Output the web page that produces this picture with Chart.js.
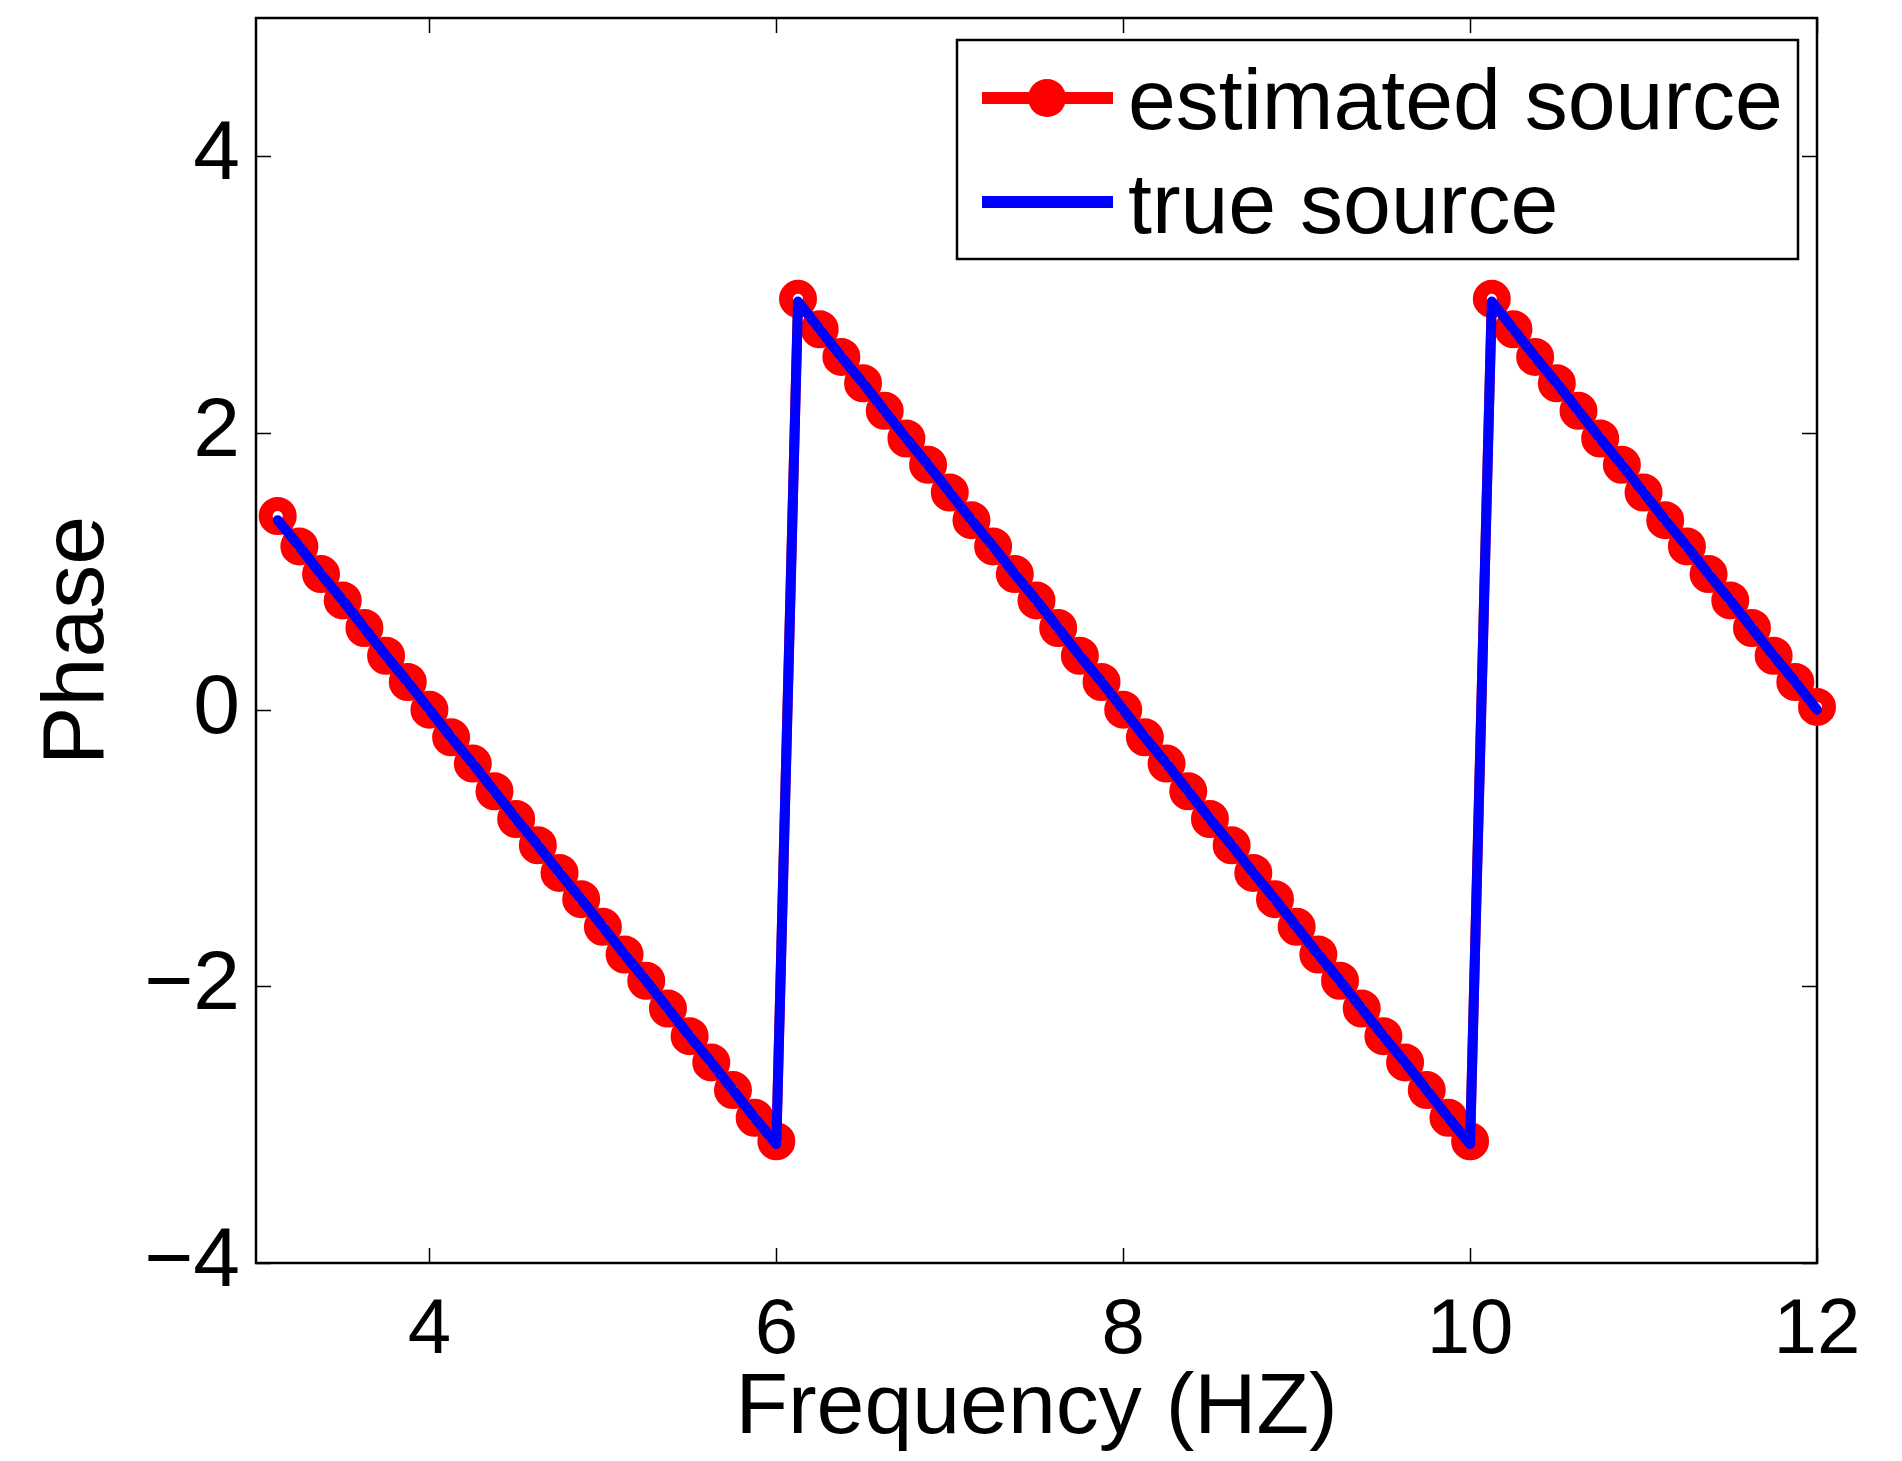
<!DOCTYPE html>
<html>
<head>
<meta charset="utf-8">
<script src="https://cdn.jsdelivr.net/npm/chart.js@4.4.1/dist/chart.umd.min.js"></script>
<style>
  html, body { margin: 0; padding: 0; background: #fff; }
  #wrap { width: 1902px; height: 1461px; }
</style>
</head>
<body>
<div id="wrap"><canvas id="phaseChart" width="1902" height="1461"></canvas></div>
<script>
// frequency samples (Hz)
const frequency = [
  3.125, 3.25, 3.375, 3.5, 3.625, 3.75, 3.875, 4,
  4.125, 4.25, 4.375, 4.5, 4.625, 4.75, 4.875, 5,
  5.125, 5.25, 5.375, 5.5, 5.625, 5.75, 5.875, 6,
  6.125, 6.25, 6.375, 6.5, 6.625, 6.75, 6.875, 7,
  7.125, 7.25, 7.375, 7.5, 7.625, 7.75, 7.875, 8,
  8.125, 8.25, 8.375, 8.5, 8.625, 8.75, 8.875, 9,
  9.125, 9.25, 9.375, 9.5, 9.625, 9.75, 9.875, 10,
  10.125, 10.25, 10.375, 10.5, 10.625, 10.75, 10.875, 11,
  11.125, 11.25, 11.375, 11.5, 11.625, 11.75, 11.875, 12
];

const estimatedPhase = [
  1.40, 1.18, 0.98, 0.79, 0.59, 0.39, 0.20, 0.00,
  -0.20, -0.39, -0.59, -0.79, -0.98, -1.18, -1.37, -1.57,
  -1.77, -1.96, -2.16, -2.36, -2.55, -2.75, -2.95, -3.12,
  2.97, 2.75, 2.55, 2.36, 2.16, 1.96, 1.77, 1.57,
  1.37, 1.18, 0.98, 0.79, 0.59, 0.39, 0.20, 0.00,
  -0.20, -0.39, -0.59, -0.79, -0.98, -1.18, -1.37, -1.57,
  -1.77, -1.96, -2.16, -2.36, -2.55, -2.75, -2.95, -3.12,
  2.97, 2.75, 2.55, 2.36, 2.16, 1.96, 1.77, 1.57,
  1.37, 1.18, 0.98, 0.79, 0.59, 0.39, 0.20, 0.02
];

const truePhase = [
  1.37, 1.18, 0.98, 0.79, 0.59, 0.39, 0.20, 0.00,
  -0.20, -0.39, -0.59, -0.79, -0.98, -1.18, -1.37, -1.57,
  -1.77, -1.96, -2.16, -2.36, -2.55, -2.75, -2.95, -3.14,
  2.95, 2.75, 2.55, 2.36, 2.16, 1.96, 1.77, 1.57,
  1.37, 1.18, 0.98, 0.79, 0.59, 0.39, 0.20, 0.00,
  -0.20, -0.39, -0.59, -0.79, -0.98, -1.18, -1.37, -1.57,
  -1.77, -1.96, -2.16, -2.36, -2.55, -2.75, -2.95, -3.14,
  2.95, 2.75, 2.55, 2.36, 2.16, 1.96, 1.77, 1.57,
  1.37, 1.18, 0.98, 0.79, 0.59, 0.39, 0.20, 0.00
];

const xTicks = [4, 6, 8, 10, 12];
const yTicks = [-4, -2, 0, 2, 4];
const seriesNames = ['estimated source', 'true source'];

const FONT = '"Liberation Sans", Arial, Helvetica, sans-serif';
const RED = '#ff0000';
const BLUE = '#0000ff';

function toPoints(ys) {
  return frequency.map((f, i) => ({ x: f, y: ys[i] }));
}

// matlab style box with inward ticks on all four sides
const boxPlugin = {
  id: 'matlabBox',
  beforeDatasetsDraw(chart) {
    const { ctx, chartArea: a, scales } = chart;
    const len = 15;
    ctx.save();
    ctx.strokeStyle = '#000';
    ctx.lineWidth = 1.5;
    ctx.beginPath();
    xTicks.forEach(v => {
      const px = Math.round(scales.x.getPixelForValue(v)) + 0.5;
      ctx.moveTo(px, a.bottom); ctx.lineTo(px, a.bottom - len);
      ctx.moveTo(px, a.top); ctx.lineTo(px, a.top + len);
    });
    yTicks.forEach(v => {
      const py = Math.round(scales.y.getPixelForValue(v)) + 0.5;
      ctx.moveTo(a.left, py); ctx.lineTo(a.left + len, py);
      ctx.moveTo(a.right, py); ctx.lineTo(a.right - len, py);
    });
    ctx.stroke();
    ctx.lineWidth = 2.5;
    ctx.strokeRect(a.left, a.top, a.right - a.left, a.bottom - a.top);
    ctx.restore();
  }
};

// legend box drawn inside the top right corner
const legendPlugin = {
  id: 'insideLegend',
  afterDraw(chart) {
    const { ctx, chartArea: a } = chart;
    const boxL = a.right - 860, boxR = a.right - 19;
    const boxT = a.top + 22, boxB = a.top + 241;
    ctx.save();
    ctx.fillStyle = '#fff';
    ctx.fillRect(boxL, boxT, boxR - boxL, boxB - boxT);
    ctx.strokeStyle = '#000';
    ctx.lineWidth = 2.5;
    ctx.strokeRect(boxL, boxT, boxR - boxL, boxB - boxT);

    const rows = [
      { name: seriesNames[0], color: RED, marker: true, y: boxT + 58 },
      { name: seriesNames[1], color: BLUE, marker: false, y: boxT + 162 }
    ];
    rows.forEach(r => {
      ctx.strokeStyle = r.color;
      ctx.lineWidth = 12;
      ctx.beginPath();
      ctx.moveTo(boxL + 25, r.y);
      ctx.lineTo(boxL + 156, r.y);
      ctx.stroke();
      if (r.marker) {
        ctx.fillStyle = r.color;
        ctx.beginPath();
        ctx.arc(boxL + 90, r.y, 19, 0, Math.PI * 2);
        ctx.fill();
      }
      ctx.fillStyle = '#000';
      ctx.font = '86px ' + FONT;
      ctx.textAlign = 'left';
      ctx.textBaseline = 'alphabetic';
      ctx.fillText(r.name, boxL + 171, r.y + 31);
    });
    ctx.restore();
  }
};

const ctx = document.getElementById('phaseChart').getContext('2d');

const phaseChart = new Chart(ctx, {
  type: 'line',
  data: {
    datasets: [
      {
        label: seriesNames[0],
        data: toPoints(estimatedPhase),
        borderColor: RED,
        borderWidth: 10,
        pointRadius: 12,
        pointBorderWidth: 14,
        pointBackgroundColor: '#fff',
        pointBorderColor: RED,
        pointHoverRadius: 12,
        tension: 0,
        clip: false,
        order: 2
      },
      {
        label: seriesNames[1],
        data: toPoints(truePhase),
        borderColor: BLUE,
        borderWidth: 10,
        pointRadius: 0,
        borderCapStyle: 'round',
        borderJoinStyle: 'round',
        tension: 0,
        clip: false,
        order: 1
      }
    ]
  },
  options: {
    responsive: false,
    animation: false,
    devicePixelRatio: 1,
    layout: { autoPadding: false, padding: { top: 18, right: 85, bottom: 0, left: 0 } },
    plugins: {
      legend: { display: false },
      tooltip: { enabled: false }
    },
    scales: {
      x: {
        type: 'linear',
        min: 3,
        max: 12,
        grid: { display: false },
        border: { display: false },
        afterBuildTicks: s => { s.ticks = xTicks.map(v => ({ value: v })); },
        afterFit: s => { s.height = 198; s.paddingLeft = 0; s.paddingRight = 0; },
        ticks: {
          color: '#000',
          padding: 14,
          font: { family: FONT, size: 78 },
          callback: v => String(v).replace('-', '\u2212')
        },
        title: {
          display: true,
          text: 'Frequency (HZ)',
          color: '#000',
          font: { family: FONT, size: 86 },
          padding: { top: 0, bottom: 0 }
        }
      },
      y: {
        type: 'linear',
        min: -4,
        max: 5,
        grid: { display: false },
        border: { display: false },
        afterBuildTicks: s => { s.ticks = yTicks.map(v => ({ value: v })); },
        afterFit: s => { s.width = 256; s.paddingTop = 0; s.paddingBottom = 0; },
        ticks: {
          color: '#000',
          padding: 8,
          font: { family: FONT, size: 84 },
          callback: v => String(v).replace('-', '\u2212')
        },
        title: {
          display: true,
          text: 'Phase',
          color: '#000',
          font: { family: FONT, size: 88 },
          padding: { top: 26, bottom: 0 }
        }
      }
    }
  },
  plugins: [boxPlugin, legendPlugin]
});
</script>
</body>
</html>
